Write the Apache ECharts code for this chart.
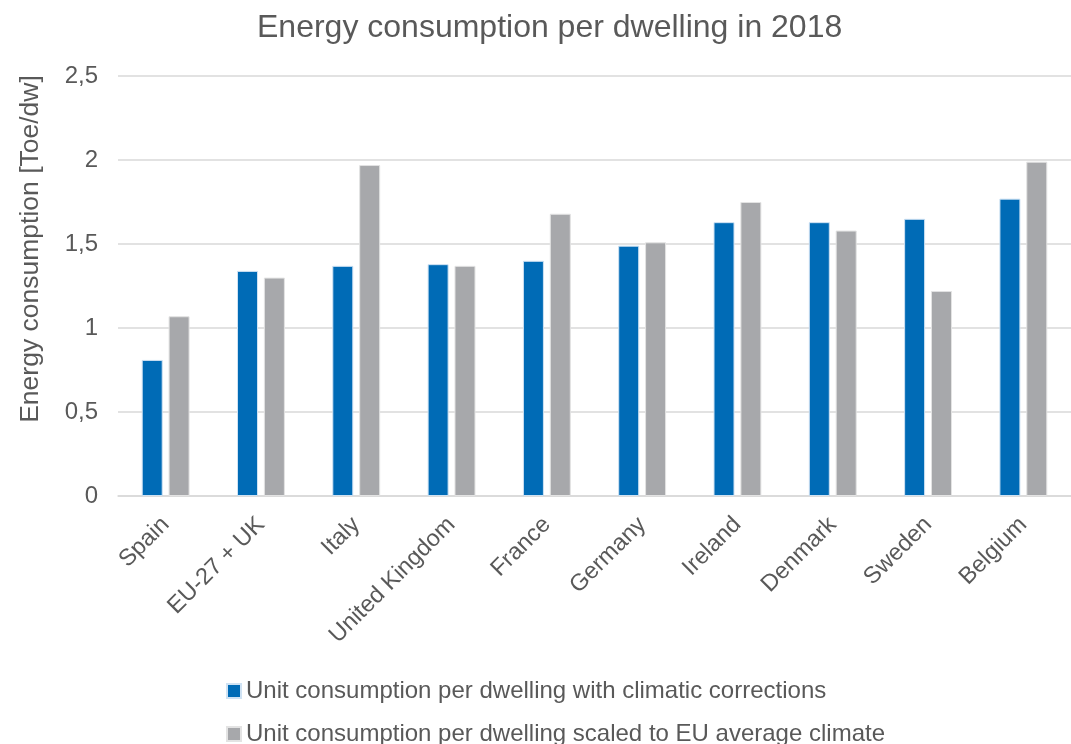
<!DOCTYPE html>
<html>
<head>
<meta charset="utf-8">
<script src="https://cdn.jsdelivr.net/npm/echarts@6/dist/echarts.min.js"></script>
<style>
  html, body { margin: 0; padding: 0; background: #ffffff; }
  #chart { width: 1071px; height: 744px; }
</style>
</head>
<body>
<div id="chart"></div>
<script>
// Countries / aggregates along the x axis
const categories = ['Spain', 'EU-27 + UK', 'Italy', 'United Kingdom', 'France',
  'Germany', 'Ireland', 'Denmark', 'Sweden', 'Belgium'];

// Unit consumption per dwelling (toe/dw)
const withClimaticCorrections = [0.81, 1.34, 1.37, 1.38, 1.40, 1.49, 1.63, 1.63, 1.65, 1.77];
const scaledToEuClimate = [1.07, 1.30, 1.97, 1.37, 1.68, 1.51, 1.75, 1.58, 1.22, 1.99];

const seriesNames = [
  'Unit consumption per dwelling with climatic corrections',
  'Unit consumption per dwelling scaled to EU average climate'
];

const FONT = '"Liberation Sans", Arial, sans-serif';
const TEXT = '#595959';

const legendBase = {
  orient: 'horizontal',
  left: 226,
  padding: 0,
  icon: 'rect',
  itemWidth: 14,
  itemHeight: 14,
  textStyle: { fontFamily: FONT, fontSize: 24, lineHeight: 24, color: TEXT }
};

const chart = echarts.init(document.getElementById('chart'), null, { renderer: 'canvas' });

chart.setOption({
  animation: false,
  textStyle: { fontFamily: FONT },
  title: {
    text: 'Energy consumption per dwelling in 2018',
    left: 257,
    top: 12,
    padding: 0,
    textStyle: { fontFamily: FONT, fontSize: 32, fontWeight: 'normal', color: TEXT }
  },
  grid: { left: 118, right: -7, top: 76, bottom: 248, containLabel: false },
  legend: [
    Object.assign({}, legendBase, { top: 679, data: [seriesNames[0]] }),
    Object.assign({}, legendBase, { top: 722, data: [seriesNames[1]] })
  ],
  xAxis: {
    type: 'category',
    data: categories,
    axisLine: { lineStyle: { color: '#d9d9d9', width: 1.5 } },
    axisTick: { show: false },
    axisLabel: {
      rotate: 45,
      margin: 25,
      interval: 0,
      fontFamily: FONT,
      fontSize: 23.5,
      color: TEXT
    }
  },
  yAxis: {
    type: 'value',
    min: 0,
    max: 2.5,
    interval: 0.5,
    axisLine: { show: false },
    axisTick: { show: false },
    splitLine: { lineStyle: { color: '#d9d9d9', width: 1.5 } },
    axisLabel: {
      margin: 20,
      fontFamily: FONT,
      fontSize: 24,
      color: TEXT,
      formatter: v => String(v).replace('.', ',')
    }
  },
  graphic: [{
    type: 'text',
    x: 31,
    y: 249,
    rotation: Math.PI / 2,
    style: {
      text: 'Energy consumption [Toe/dw]',
      font: '26.5px ' + FONT,
      fill: TEXT,
      textAlign: 'center',
      textVerticalAlign: 'middle'
    }
  }],
  series: [
    {
      name: seriesNames[0],
      type: 'bar',
      data: withClimaticCorrections,
      barWidth: 21,
      barGap: '28%',
      itemStyle: { color: '#006bb6', borderColor: '#cfe2f3', borderWidth: 1 }
    },
    {
      name: seriesNames[1],
      type: 'bar',
      data: scaledToEuClimate,
      barWidth: 21,
      barGap: '28%',
      itemStyle: { color: '#a7a8ab', borderColor: '#e3e3e3', borderWidth: 1 }
    }
  ]
});
</script>
</body>
</html>
